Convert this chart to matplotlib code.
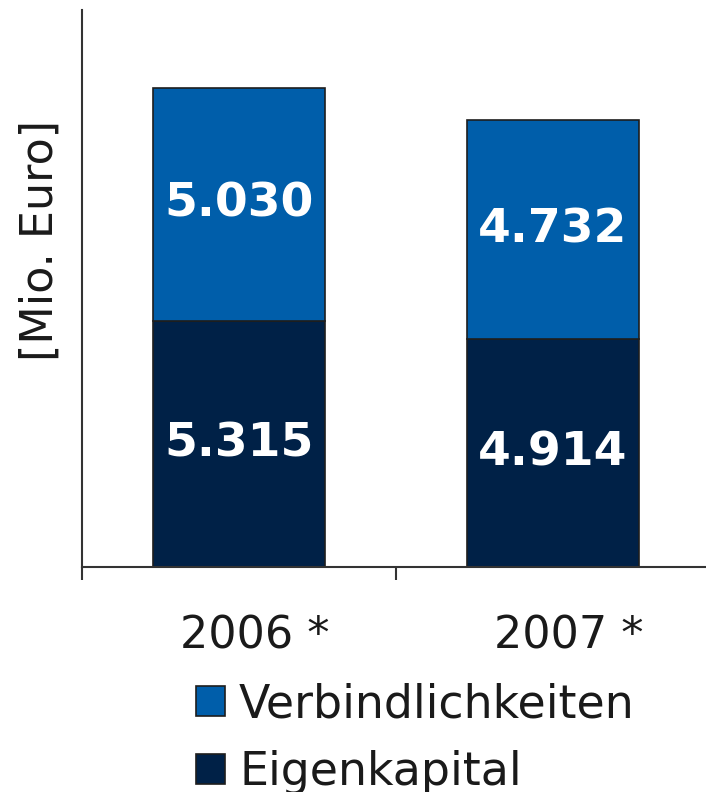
import numpy as np
import matplotlib.pyplot as plt
from matplotlib.patches import Patch

# data
years = ["2006 *", "2007 *"]
eigenkapital = [5315, 4914]
verbindlichkeiten = [5030, 4732]
eig_labels = ["5.315", "4.914"]
verb_labels = ["5.030", "4.732"]

col_verb = "#005eaa"
col_eig = "#002147"
edge = "#1e1e1e"

fig = plt.figure(figsize=(7.06, 7.92), dpi=100)
ax = fig.add_axes([82 / 706, 225 / 792, 628 / 706, 557 / 792])

x = np.arange(len(years))
b1 = ax.bar(x, eigenkapital, width=0.55, color=col_eig, edgecolor=edge, linewidth=1.2)
b2 = ax.bar(x, verbindlichkeiten, width=0.55, bottom=eigenkapital,
            color=col_verb, edgecolor=edge, linewidth=1.2)

for i in range(len(years)):
    ax.text(x[i], eigenkapital[i] / 2, eig_labels[i], ha="center", va="center",
            color="white", fontsize=34, fontweight="bold")
    ax.text(x[i], eigenkapital[i] + verbindlichkeiten[i] / 2, verb_labels[i],
            ha="center", va="center", color="white", fontsize=34, fontweight="bold")

ax.set_xlim(-0.5, 1.5)
ax.set_ylim(0, 12030)
ax.spines["top"].set_visible(False)
ax.spines["right"].set_visible(False)
for s in ["left", "bottom"]:
    ax.spines[s].set_color("#333333")
    ax.spines[s].set_linewidth(1.5)

ax.set_yticks([])
ax.set_xticks([-0.5, 0.5, 1.5])
ax.set_xticklabels([])
ax.tick_params(axis="x", length=9.5, width=1.5, color="#333333", direction="out")

# category labels
for i in range(len(years)):
    ax.annotate(years[i], xy=(x[i], 0), xycoords=("data", "axes fraction"),
                xytext=(16, -69), textcoords="offset pixels",
                ha="center", va="center", fontsize=32, color="#1a1a1a")

fig.text(40 / 706, 1 - 240 / 792, "[Mio. Euro]", rotation=90, ha="center", va="center",
         fontsize=32, color="#1a1a1a")

handles = [Patch(facecolor=col_verb, edgecolor=edge, linewidth=1.2),
           Patch(facecolor=col_eig, edgecolor=edge, linewidth=1.2)]
fig.legend(handles, ["Verbindlichkeiten", "Eigenkapital"], loc="upper left",
           bbox_to_anchor=(196 / 706, 1 - 682 / 792), frameon=False, fontsize=33,
           handlelength=0.64, handleheight=0.64, handletextpad=0.3,
           labelspacing=0.5, borderpad=0, borderaxespad=0, labelcolor="#1a1a1a")

fig.savefig("out.png", dpi=100)
